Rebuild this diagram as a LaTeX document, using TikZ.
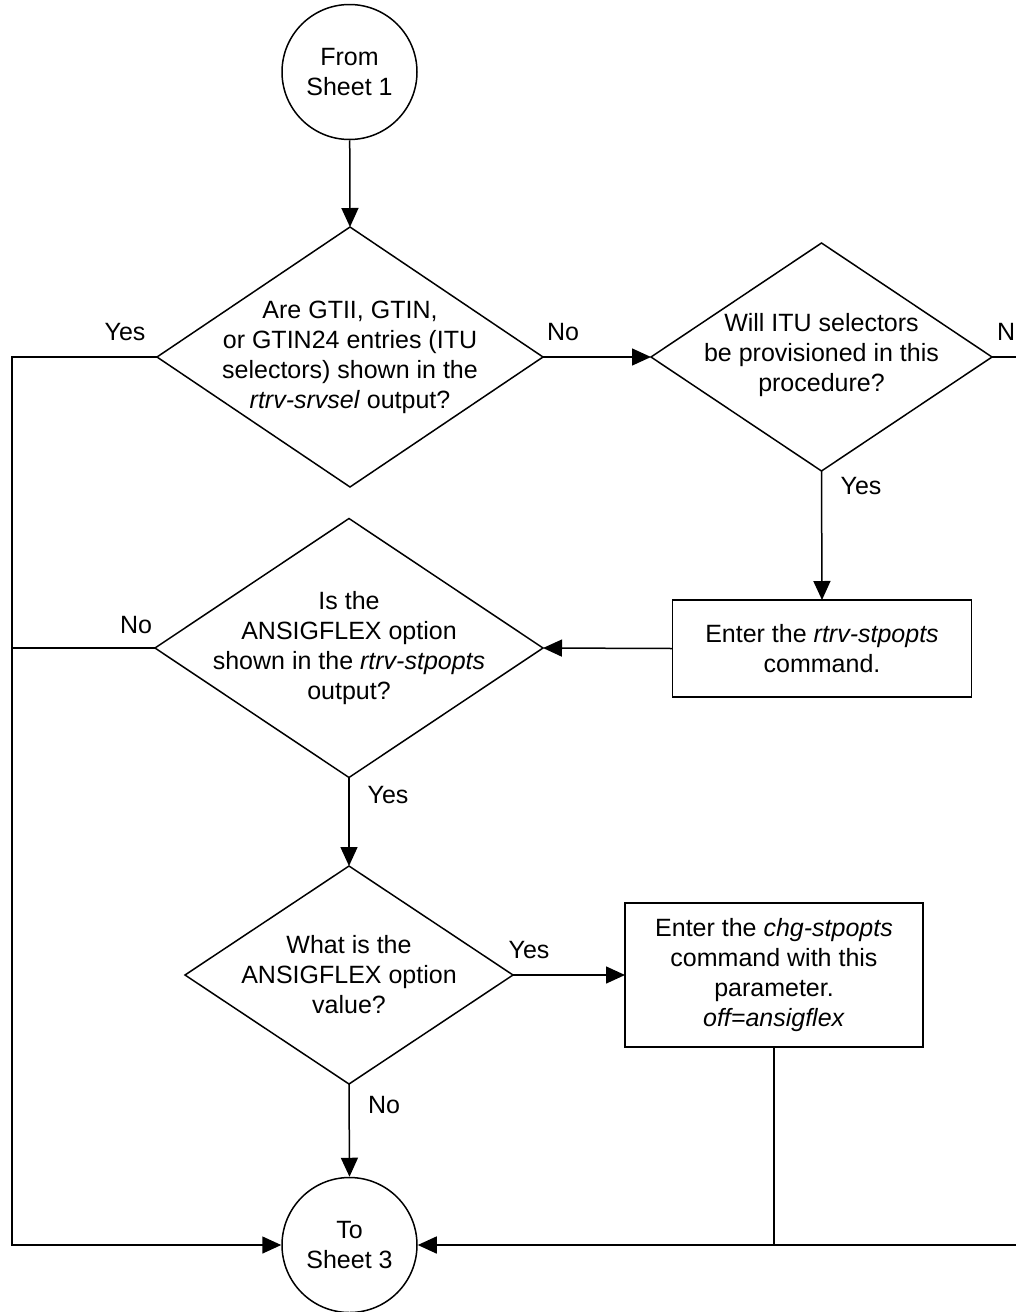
\documentclass[tikz,border=0pt]{standalone}
\usepackage{fontspec}
\setmainfont{Liberation Sans}
\usetikzlibrary{shapes.geometric,arrows.meta}
\begin{document}
\begin{tikzpicture}[x=1pt,y=-1pt,
  every node/.style={font=\fontsize{25}{30}\selectfont},
  conn/.style={line width=1.5pt},
  arr/.style={conn,-{Triangle[length=19pt,width=17pt]}},
  term/.style={draw,circle,line width=1.5pt,minimum size=135pt,inner sep=0pt,align=center},
  dia/.style={draw,diamond,line width=1.5pt,inner sep=0pt,outer sep=0pt},
  proc/.style={draw,rectangle,line width=1.5pt,inner sep=0pt,outer sep=0pt,align=center},
  lbl/.style={inner sep=0pt,align=center}]
\useasboundingbox (0,0) rectangle (1016,1312);
\clip (0,0) rectangle (1016,1312);

% nodes
\node[term] (s1) at (349.5,72) {From\\Sheet 1};
\node[dia,minimum width=386pt,minimum height=260pt] (d1) at (350,357) {};
\node[lbl] (d1t) at (350,357) {Are GTII, GTIN,\\or GTIN24 entries (ITU\\selectors) shown in the\\\textit{rtrv-srvsel} output?};
\node[dia,minimum width=341pt,minimum height=228pt] (d2) at (821.5,357) {};
\node[lbl] (d2t) at (821.5,355) {Will ITU selectors\\be provisioned in this\\procedure?};
\node[proc,minimum width=299pt,minimum height=97pt] (b1) at (822,648.5) {};
\node[lbl] (b1t) at (822,649) {Enter the \textit{rtrv-stpopts}\\command.};
\node[dia,minimum width=388pt,minimum height=259pt] (d3) at (349,648) {};
\node[lbl] (d3t) at (349,648) {Is the\\ANSIGFLEX option\\shown in the \textit{rtrv-stpopts}\\output?};
\node[dia,minimum width=328pt,minimum height=218pt] (d4) at (349,975) {};
\node[lbl] (d4t) at (349,975) {What is the\\ANSIGFLEX option\\value?};
\node[proc,minimum width=298pt,minimum height=144pt] (b2) at (774,975) {};
\node[lbl] (b2t) at (774,975) {Enter the \textit{chg-stpopts}\\command with this\\parameter.\\\textit{off=ansigflex}};
\node[term] (s3) at (349.5,1245) {To\\Sheet 3};

% corner coordinates
\coordinate (lt) at (12,357);
\coordinate (lb) at (12,1245);
\coordinate (rt) at (1040,357);
\coordinate (rb) at (1040,1245);

% connectors
\draw[arr] (s1) -- (d1.north);
\draw[arr] (d1.east) -- (d2.west);
\draw[arr] (d2.south) -- (b1.north);
\draw[arr] (b1.west) -- (d3.east);
\draw[arr] (d3.south) -- (d4.north);
\draw[arr] (d4.east) -- (b2.west);
\draw[arr] (d4.south) -- (s3.north);
\draw[arr] (d1.west) -- (lt) -- (lb) -- (s3.west);
\draw[conn] (d3.west) -- (d3.west -| lt);
\draw[arr] (d2.east) -- (rt) -- (rb) -- (s3.east);
\draw[conn] (b2.south) -- (b2.south |- s3.east);

% labels
\node[lbl] (l1) at (125,332) {Yes};
\node[lbl] (l2) at (563,332) {No};
\node[lbl,anchor=west] (l3) at (997,332) {No};
\node[lbl] (l4) at (861,486) {Yes};
\node[lbl] (l5) at (136,625) {No};
\node[lbl] (l6) at (388,795) {Yes};
\node[lbl] (l7) at (529,950) {Yes};
\node[lbl] (l8) at (384,1105) {No};
\end{tikzpicture}
\end{document}
